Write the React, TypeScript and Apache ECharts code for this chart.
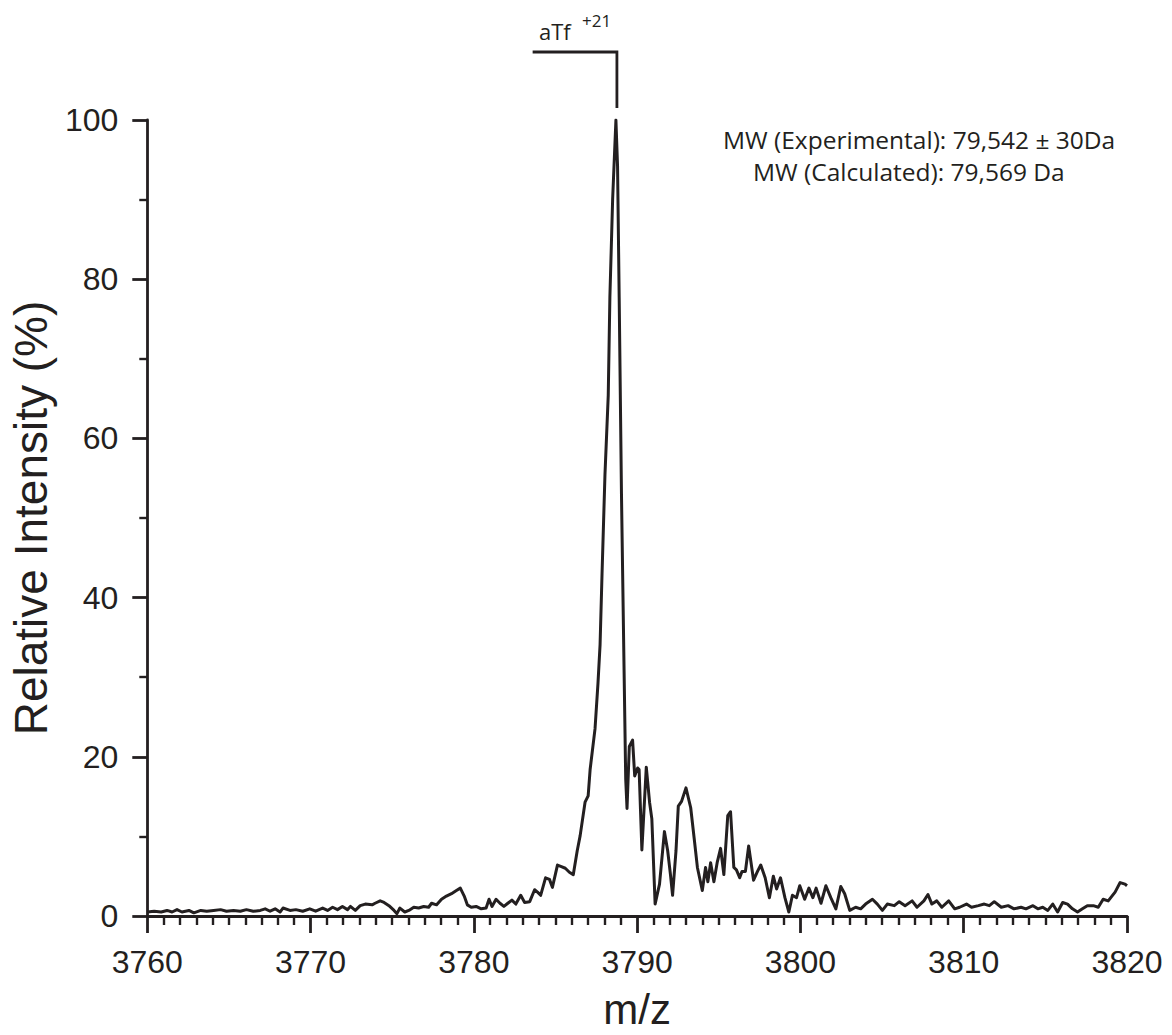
import React, { useEffect, useRef } from "react";
import * as echarts from "echarts";

// m/z positions (x) and relative intensity (%)
const mz = [
  3760.0, 3760.42, 3760.85, 3761.21, 3761.52, 3761.82, 3762.12, 3762.55, 3762.85, 3763.28,
  3763.64, 3764.06, 3764.49, 3764.85, 3765.28, 3765.7, 3766.07, 3766.49, 3766.92, 3767.22,
  3767.52, 3767.83, 3768.13, 3768.31, 3768.74, 3769.1, 3769.52, 3769.95, 3770.31, 3770.74,
  3771.04, 3771.35, 3771.65, 3771.95, 3772.26, 3772.44, 3772.74, 3773.04, 3773.35, 3773.77,
  3773.95, 3774.26, 3774.5, 3774.8, 3775.11, 3775.29, 3775.47, 3775.77, 3776.02, 3776.32,
  3776.62, 3776.93, 3777.23, 3777.41, 3777.72, 3778.02, 3778.32, 3778.63, 3778.93, 3779.17,
  3779.41, 3779.6, 3779.84, 3780.14, 3780.45, 3780.75, 3780.93, 3781.11, 3781.36, 3781.6,
  3781.84, 3782.08, 3782.33, 3782.57, 3782.87, 3783.11, 3783.42, 3783.72, 3783.9, 3784.09,
  3784.39, 3784.63, 3784.81, 3785.12, 3785.36, 3785.6, 3785.85, 3786.09, 3786.33, 3786.51,
  3786.81, 3787.0, 3787.12, 3787.42, 3787.6, 3787.73, 3787.85, 3788.03, 3788.23, 3788.33,
  3788.5, 3788.7, 3788.8, 3788.9, 3789.04, 3789.2, 3789.3, 3789.38, 3789.52, 3789.72,
  3789.85, 3790.03, 3790.12, 3790.29, 3790.56, 3790.76, 3790.9, 3791.1, 3791.37, 3791.67,
  3791.87, 3792.04, 3792.17, 3792.38, 3792.52, 3792.72, 3792.99, 3793.28, 3793.49, 3793.69,
  3793.99, 3794.19, 3794.33, 3794.5, 3794.7, 3794.9, 3795.11, 3795.31, 3795.55, 3795.72,
  3795.92, 3796.08, 3796.28, 3796.42, 3796.63, 3796.83, 3797.13, 3797.37, 3797.57, 3797.84,
  3798.1, 3798.34, 3798.54, 3798.78, 3799.05, 3799.29, 3799.51, 3799.76, 3799.96, 3800.26,
  3800.52, 3800.76, 3800.96, 3801.26, 3801.56, 3801.86, 3802.17, 3802.47, 3802.71, 3803.02,
  3803.38, 3803.69, 3803.99, 3804.41, 3804.71, 3805.02, 3805.32, 3805.75, 3806.05, 3806.41,
  3806.84, 3807.14, 3807.56, 3807.81, 3808.05, 3808.35, 3808.66, 3809.08, 3809.45, 3809.75,
  3810.17, 3810.48, 3810.9, 3811.26, 3811.57, 3811.87, 3812.3, 3812.72, 3813.08, 3813.51,
  3813.81, 3814.24, 3814.54, 3814.84, 3815.15, 3815.45, 3815.75, 3816.06, 3816.36, 3816.66,
  3816.97, 3817.27, 3817.57, 3817.94, 3818.24, 3818.54, 3818.85, 3819.27, 3819.58, 3819.88,
  3820.0,
];

const intensity = [
  0.5, 0.6, 0.5, 0.7, 0.5, 0.8, 0.5, 0.7, 0.4, 0.7,
  0.6, 0.7, 0.8, 0.6, 0.7, 0.6, 0.8, 0.6, 0.7, 0.9,
  0.6, 0.9, 0.5, 1.0, 0.7, 0.8, 0.6, 0.9, 0.6, 1.0,
  0.7, 1.1, 0.8, 1.2, 0.8, 1.2, 0.7, 1.3, 1.5, 1.4,
  1.6, 1.9, 1.7, 1.3, 0.7, 0.3, 1.0, 0.5, 0.7, 1.1,
  1.0, 1.2, 1.1, 1.6, 1.4, 2.1, 2.5, 2.8, 3.2, 3.5,
  2.5, 1.4, 1.1, 1.2, 0.9, 1.0, 2.1, 1.2, 2.1, 1.6,
  1.2, 1.6, 2.0, 1.5, 2.6, 1.7, 1.8, 3.3, 3.0, 2.6,
  4.8, 4.6, 3.6, 6.4, 6.2, 6.0, 5.5, 5.2, 8.2, 10.1,
  14.3, 15.1, 18.4, 23.5, 29.2, 34.1, 43.0, 55.5, 65.4, 77.7,
  90.1, 100, 94.2, 77.7, 53.0, 30.8, 17.2, 13.5, 21.3, 22.1,
  17.6, 18.6, 18.4, 8.3, 18.7, 14.3, 12.2, 1.5, 4.0, 10.6,
  8.2, 5.2, 2.6, 8.2, 13.8, 14.4, 16.1, 13.6, 9.8, 6.1,
  3.2, 6.1, 4.3, 6.7, 4.3, 6.7, 8.5, 5.2, 12.6, 13.1,
  6.1, 5.8, 4.8, 5.6, 5.6, 8.8, 4.5, 5.6, 6.4, 4.8,
  2.3, 5.0, 3.4, 4.8, 2.3, 0.5, 2.6, 2.3, 3.8, 2.1,
  3.5, 2.3, 3.5, 1.6, 3.8, 2.3, 0.9, 3.7, 2.8, 0.7,
  1.1, 0.9, 1.5, 2.1, 1.5, 0.7, 1.5, 1.3, 1.8, 1.3,
  1.9, 1.1, 1.9, 2.7, 1.5, 1.9, 1.1, 1.9, 0.9, 1.1,
  1.5, 1.1, 1.3, 1.5, 1.3, 1.8, 1.1, 1.3, 0.9, 1.1,
  0.9, 1.3, 0.9, 1.1, 0.7, 1.5, 0.5, 1.7, 1.5, 0.9,
  0.5, 0.9, 1.3, 1.3, 1.1, 2.1, 1.9, 3.0, 4.2, 4.0,
  3.8,
];

const xRange = [3760, 3820];
const xStep = 10;
const yRange = [0, 100];
const yStep = 20;

const peakLabel = "aTf";
const peakCharge = "+21";
const bracketStartMz = 3783.6;
const mwLines = ["MW (Experimental): 79,542 \u00B1 30Da", "MW (Calculated): 79,569 Da"];

const xTitle = "m/z";
const yTitle = "Relative Intensity (%)";

export default function App() {
  const ref = useRef<HTMLDivElement>(null);

  useEffect(() => {
    const el = ref.current;
    if (!el) return;
    document.body.style.margin = "0";
    const chart = echarts.init(el, null, { renderer: "svg", width: 1172, height: 1035 });
    const ink = "#231f20";
    const axisFont = "'Liberation Sans', Arial, sans-serif";
    const noteFont = "'Open Sans', 'Noto Sans', sans-serif";

    const data = mz.map((x, i) => [x, intensity[i]]);

    chart.setOption({
      animation: false,
      backgroundColor: "#ffffff",
      grid: { left: 138, width: 989, top: 120, height: 809, containLabel: false },
      xAxis: {
        type: "value",
        min: xRange[0],
        max: xRange[1],
        interval: xStep,
        name: xTitle,
        nameLocation: "middle",
        nameGap: 72,
        nameTextStyle: { color: ink, fontSize: 42, fontFamily: axisFont },
        axisLine: { show: true, onZero: false, lineStyle: { color: ink, width: 2.8 } },
        axisTick: { show: true, length: 17, lineStyle: { color: ink, width: 2.8 } },
        minorTick: { show: true, splitNumber: 10, length: 9, lineStyle: { color: ink, width: 2.4 } },
        splitLine: { show: false },
        axisLabel: { color: ink, fontSize: 32, fontFamily: axisFont, margin: 30, formatter: (v: number) => String(v) },
      },
      yAxis: {
        type: "value",
        min: yRange[0],
        max: yRange[1],
        interval: yStep,
        name: yTitle,
        nameLocation: "middle",
        nameGap: 87,
        nameRotate: 90,
        nameTextStyle: { color: ink, fontSize: 46, fontFamily: axisFont },
        axisLine: { show: true, lineStyle: { color: ink, width: 2.8 } },
        axisTick: { show: true, length: 15, lineStyle: { color: ink, width: 2.8 } },
        minorTick: { show: true, splitNumber: 2, length: 8, lineStyle: { color: ink, width: 2.4 } },
        splitLine: { show: false },
        axisLabel: { color: ink, fontSize: 32, fontFamily: axisFont, margin: 29, formatter: (v: number) => String(v) },
      },
      series: [
        {
          type: "line",
          data,
          showSymbol: false,
          symbol: "none",
          clip: true,
          lineStyle: { color: ink, width: 3, join: "round" },
        },
      ],
    });

    let peakIdx = 0;
    intensity.forEach((v, i) => {
      if (v > intensity[peakIdx]) peakIdx = i;
    });
    const peakPx = chart.convertToPixel({ gridIndex: 0 }, [mz[peakIdx], intensity[peakIdx]]) as number[];
    const startPx = chart.convertToPixel({ gridIndex: 0 }, [bracketStartMz, 0]) as number[];
    const bx = peakPx[0] + 1;
    const topY = 52;

    chart.setOption({
      graphic: [
        {
          type: "polyline",
          shape: { points: [[startPx[0], topY], [bx, topY], [bx, peakPx[1] - 12]] },
          style: { stroke: ink, lineWidth: 2.8, fill: null },
        },
        {
          type: "text",
          x: 539,
          y: 31,
          style: { text: peakLabel, fill: ink, font: `22px ${noteFont}`, lineHeight: 22, verticalAlign: "middle", align: "left" },
        },
        {
          type: "text",
          x: 582,
          y: 20,
          style: { text: peakCharge, fill: ink, font: `17px ${noteFont}`, lineHeight: 16, verticalAlign: "middle", align: "left" },
        },
        {
          type: "text",
          x: 723,
          y: 139,
          style: { text: mwLines[0], fill: ink, font: `24.5px ${noteFont}`, lineHeight: 24, verticalAlign: "middle", align: "left" },
        },
        {
          type: "text",
          x: 753,
          y: 171,
          style: { text: mwLines[1], fill: ink, font: `24.5px ${noteFont}`, lineHeight: 24, verticalAlign: "middle", align: "left" },
        },
      ],
    });

    return () => chart.dispose();
  }, []);

  return <div ref={ref} style={{ width: 1172, height: 1035, background: "#ffffff" }} />;
}
